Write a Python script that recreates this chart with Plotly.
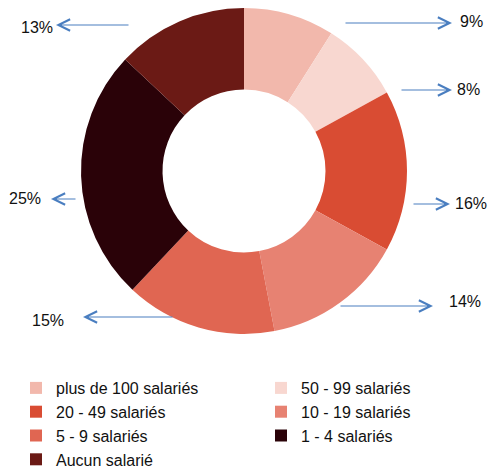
import plotly.graph_objects as go

W, H = 489, 470

categories = ["plus de 100 salariés", "50 - 99 salariés", "20 - 49 salariés",
              "10 - 19 salariés", "5 - 9 salariés", "1 - 4 salariés", "Aucun salarié"]
values = [9, 8, 16, 14, 15, 25, 13]
colors = ["#F2B8AC", "#F8D7D0", "#D94C33", "#E78272", "#E06652", "#2A0208", "#6B1A15"]

# label layout in pixels: (arrow tail x, arrow head x, arrow y, text x, text y)
label_pos = [
    (344, 452, 23, 471, 21),
    (400, 452, 90, 468, 90),
    (412, 450, 204, 471, 203),
    (339, 433, 306, 465, 301),
    (174, 83, 317, 48, 320),
    (77, 51, 199, 25, 198),
    (130, 56, 25, 37, 27),
]

def px(x):
    return x / W

def py(y):
    return 1 - y / H

fig = go.Figure()
fig.add_trace(go.Pie(
    labels=categories, values=values, hole=0.5, sort=False,
    direction="clockwise", rotation=0, textinfo="none",
    marker=dict(colors=colors, line=dict(width=0)),
    domain=dict(x=[px(81), px(407)], y=[py(334), py(8)]),
))

arrow_col = "#4A7EC0"
for v, (tx0, tx1, ay, lx, ly) in zip(values, label_pos):
    fig.add_annotation(x=px(tx1), y=py(ay), xref="paper", yref="paper",
                       ax=tx0 - tx1, ay=0, text="", showarrow=True,
                       arrowhead=5, arrowsize=1.9, arrowwidth=1.2,
                       arrowcolor=arrow_col, standoff=0)
    fig.add_annotation(x=px(lx), y=py(ly), xref="paper", yref="paper",
                       xanchor="center", yanchor="middle",
                       text=f"{v}%", showarrow=False,
                       font=dict(size=16, color="#111111"))

fig.update_layout(
    width=W, height=H,
    margin=dict(l=0, r=0, t=0, b=0, autoexpand=False),
    paper_bgcolor="white", plot_bgcolor="white",
    font=dict(family="Liberation Sans, Arial, sans-serif", size=16, color="#111111"),
    legend=dict(orientation="h", x=px(16), y=py(371), xanchor="left", yanchor="top",
                entrywidth=200, entrywidthmode="pixels", tracegroupgap=0,
                itemwidth=30, font=dict(size=16)),
)

# drop the default 8px body margin so the figure fills the window
fig.write_html("out.html", config={"displayModeBar": False},
               post_script="document.body.style.margin='0';")
